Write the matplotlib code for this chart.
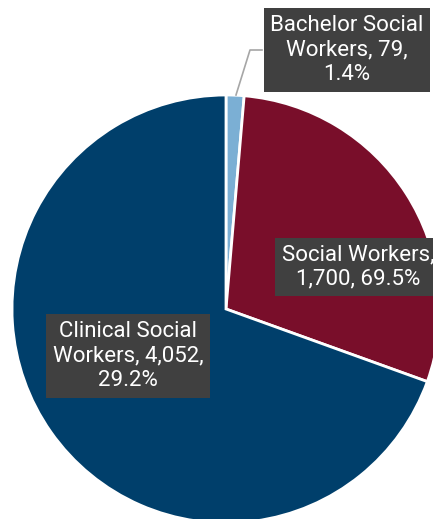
import matplotlib.pyplot as plt

# Data
categories = ["Bachelor Social\nWorkers", "Social Workers", "Clinical Social\nWorkers"]
counts = [79, 1700, 4052]
pct_labels = ["1.4%", "69.5%", "29.2%"]
colors = ["#7bafd4", "#790e2a", "#003f6b"]

fig = plt.figure(figsize=(4.33, 5.19), dpi=100)
ax = fig.add_axes([0, 0, 1, 1])

# Pie, starting at 12 o'clock, clockwise
ax.pie(counts, colors=colors, startangle=90, counterclock=False,
       center=(226, 210), radius=214,
       wedgeprops=dict(edgecolor="white", linewidth=2))

ax.set_xlim(0, 433)
ax.set_ylim(0, 519)
ax.set_aspect("equal")
ax.axis("off")

box = dict(boxstyle="square,pad=0.3", facecolor="#404040", edgecolor="none")
font = dict(family=["Roboto", "DejaVu Sans"], size=16, color="white",
            ha="center", va="center", linespacing=1.22)

# Bachelor label with leader line
ax.plot([236, 250, 262], [424, 469, 469], color="#a6a6a6", lw=1.2)
ax.text(347, 469, f"Bachelor Social\nWorkers, {counts[0]:,},\n{pct_labels[0]}",
        bbox=box, **font)

ax.text(358, 252, f"Social Workers,\n{counts[1]:,}, {pct_labels[1]}",
        bbox=box, **font)

ax.text(128, 163, f"Clinical Social\nWorkers, {counts[2]:,},\n{pct_labels[2]}",
        bbox=box, **font)

fig.savefig("out.png", dpi=100)
